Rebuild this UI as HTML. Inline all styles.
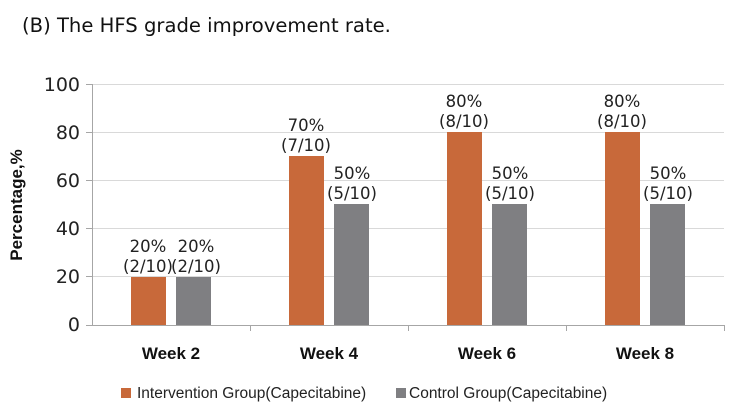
<!DOCTYPE html>
<html><head><meta charset="utf-8"><style>
html,body{margin:0;padding:0;background:#fff;}
svg{display:block;font-family:"Liberation Sans",sans-serif;}
</style></head><body>
<svg width="732" height="417" viewBox="0 0 732 417" xmlns="http://www.w3.org/2000/svg">
<text x="22" y="32" font-size="19.6" fill="#111" font-family="DejaVu Sans, sans-serif">(B)  The HFS grade improvement rate.</text>
<g stroke="#d9d9d9" stroke-width="1">
<line x1="86" y1="84.5" x2="724" y2="84.5"/>
<line x1="86" y1="132.5" x2="724" y2="132.5"/>
<line x1="86" y1="180.5" x2="724" y2="180.5"/>
<line x1="86" y1="228.5" x2="724" y2="228.5"/>
<line x1="86" y1="276.5" x2="724" y2="276.5"/>
</g>
<g stroke="#a6a6a6" stroke-width="1">
<line x1="92.5" y1="84" x2="92.5" y2="325"/>
<line x1="86" y1="325.5" x2="724" y2="325.5"/>
<line x1="86" y1="84.5" x2="92" y2="84.5"/><line x1="86" y1="132.5" x2="92" y2="132.5"/><line x1="86" y1="180.5" x2="92" y2="180.5"/><line x1="86" y1="228.5" x2="92" y2="228.5"/><line x1="86" y1="276.5" x2="92" y2="276.5"/>
<line x1="250.5" y1="325" x2="250.5" y2="331"/><line x1="408.5" y1="325" x2="408.5" y2="331"/><line x1="566.5" y1="325" x2="566.5" y2="331"/><line x1="724.5" y1="325" x2="724.5" y2="331"/>
</g>
<g font-size="19" fill="#222" text-anchor="end" font-family="DejaVu Sans, sans-serif">
<text x="80" y="91">100</text><text x="80" y="139">80</text><text x="80" y="187">60</text><text x="80" y="235">40</text><text x="80" y="283">20</text><text x="80" y="331">0</text>
</g>
<text transform="translate(22,205) rotate(-90)" font-size="17" font-weight="bold" text-anchor="middle" fill="#111">Percentage,%</text>
<g fill="#c8693a">
<rect x="131" y="277" width="35" height="48"/>
<rect x="289" y="156" width="35" height="169"/>
<rect x="447" y="132" width="35" height="193"/>
<rect x="605" y="132" width="35" height="193"/>
</g>
<g fill="#7f7f82">
<rect x="176" y="277" width="35" height="48"/>
<rect x="334" y="204" width="35" height="121"/>
<rect x="492" y="204" width="35" height="121"/>
<rect x="650" y="204" width="35" height="121"/>
</g>
<g font-size="16.5" fill="#222" text-anchor="middle" font-family="DejaVu Sans, sans-serif">
<text x="148" y="252">20%</text><text x="148" y="272">(2/10)</text>
<text x="196" y="252">20%</text><text x="196" y="272">(2/10)</text>
<text x="306" y="131">70%</text><text x="306" y="151">(7/10)</text>
<text x="352" y="179">50%</text><text x="352" y="199">(5/10)</text>
<text x="464" y="107">80%</text><text x="464" y="127">(8/10)</text>
<text x="510" y="179">50%</text><text x="510" y="199">(5/10)</text>
<text x="622" y="107">80%</text><text x="622" y="127">(8/10)</text>
<text x="668" y="179">50%</text><text x="668" y="199">(5/10)</text>
</g>
<g font-size="17" font-weight="bold" fill="#111" text-anchor="middle">
<text x="171" y="359">Week 2</text><text x="329" y="359">Week 4</text><text x="487" y="359">Week 6</text><text x="645" y="359">Week 8</text>
</g>
<rect x="121" y="388" width="10" height="10" fill="#c8693a"/>
<text x="137" y="398" font-size="15.5" fill="#222">Intervention Group(Capecitabine)</text>
<rect x="396" y="388" width="10" height="10" fill="#7f7f82"/>
<text x="409" y="398" font-size="15.5" fill="#222">Control Group(Capecitabine)</text>
</svg>
</body></html>
